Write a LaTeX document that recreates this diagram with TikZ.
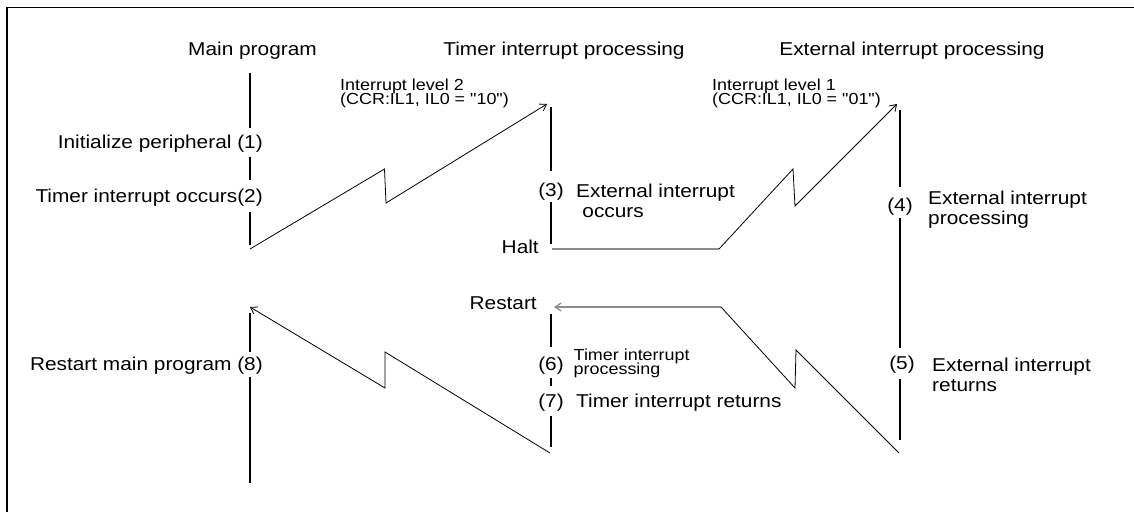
\documentclass[tikz,border=0pt]{standalone}
\usepackage{fontspec}
\usepackage{graphicx}
\setmainfont{Liberation Sans}[Ligatures=TeXOff]
\usetikzlibrary{arrows.meta}
\newcommand{\bigfnt}{\fontsize{18.6bp}{20bp}\selectfont\lineskiplimit=-100pt}
\newcommand{\smfnt}{\fontsize{16bp}{14bp}\selectfont\lineskiplimit=-100pt}
\begin{document}
\begin{tikzpicture}[x=1bp,y=-1bp,
  lab/.style={font=\bigfnt, inner sep=0pt, xscale=1.12},
  mlab/.style={font=\bigfnt, inner sep=0pt, xscale=1.12, align=left, anchor=north west},
  slab/.style={font=\smfnt, inner sep=0pt, xscale=1.12, align=left, anchor=north west},
  bar/.style={line width=2.2bp, black},
  zz/.style={line width=0.8bp, black},
  hz/.style={line width=1.3bp, black!45},
  tipped/.style={-{Straight Barb[length=6bp,width=8bp]}},
  frame/.style={line width=1.4bp, black}]
\useasboundingbox[fill=white] (0,0) rectangle (1134,512);
% frame
\coordinate (fbl) at (7,512);
\coordinate (ftl) at (7,7.5);
\coordinate (ftr) at (1134,7.5);
\draw[frame] (fbl) -- (ftl) -- (ftr);
% headers
\node[lab, anchor=base] (hmain) at (252.5,56) {Main program};
\node[lab, anchor=base] (htimer) at (564,56) {Timer interrupt processing};
\node[lab, anchor=base] (hext) at (912,56) {External interrupt processing};
% main program labels
\node[lab, anchor=base east] (l1) at (263,148.3) {Initialize peripheral (1)};
\node[lab, anchor=base east] (l2) at (263,202.5) {Timer interrupt occurs(2)};
\node[lab, anchor=base east] (l8) at (263,370.5) {Restart main program (8)};
% level labels
\node[slab] (lev2) at (340,79) {Interrupt level 2\\(CCR:IL1, IL0 = "10")};
\node[slab] (lev1) at (712,79) {Interrupt level 1\\(CCR:IL1, IL0 = "01")};
% timer labels
\node[lab, anchor=base] (n3) at (551,196.5) {(3)};
\node[mlab] (t3) at (576,184.2) {External interrupt\\\hspace*{0.3em}occurs};
\node[lab, anchor=base east] (halt) at (539,253.6) {Halt};
\node[lab, anchor=base east] (restart) at (537,309.6) {Restart};
\node[lab, anchor=base] (n6) at (551,370.7) {(6)};
\node[slab] (t6) at (573.5,349) {Timer interrupt\\processing};
\node[lab, anchor=base] (n7) at (551,407.5) {(7)};
\node[lab, anchor=base west] (t7) at (576,407) {Timer interrupt returns};
% external labels
\node[lab, anchor=base] (n4) at (900,212) {(4)};
\node[mlab] (t4) at (928,191.2) {External interrupt\\processing};
\node[lab, anchor=base] (n5) at (902,369.5) {(5)};
\node[mlab] (t5) at (932,358.2) {External interrupt\\returns};
% bar coordinates
\coordinate (mA) at (250,73);  \coordinate (mB) at (250,128);
\coordinate (mC) at (250,157); \coordinate (mD) at (250,180);
\coordinate (mE) at (250,212); \coordinate (mF) at (250,245);
\coordinate (mG) at (250,313); \coordinate (mH) at (250,352);
\coordinate (mI) at (250,377); \coordinate (mJ) at (250,483);
\coordinate (tA) at (551,107); \coordinate (tB) at (551,171);
\coordinate (tC) at (551,202); \coordinate (tD) at (551,244);
\coordinate (tE) at (551,314); \coordinate (tF) at (551,347);
\coordinate (tG) at (551,378); \coordinate (tH) at (551,386);
\coordinate (tI) at (551,416); \coordinate (tJ) at (551,447);
\coordinate (eA) at (900,110); \coordinate (eB) at (900,187);
\coordinate (eC) at (900,218); \coordinate (eD) at (900,348);
\coordinate (eE) at (900,379); \coordinate (eF) at (900,440);
\draw[bar] (mA) -- (mB) (mC) -- (mD) (mE) -- (mF);
\draw[bar] (mG) -- (mH) (mI) -- (mJ);
\draw[bar] (tA) -- (tB) (tC) -- (tD);
\draw[bar] (tE) -- (tF) (tG) -- (tH) (tI) -- (tJ);
\draw[bar] (eA) -- (eB) (eC) -- (eD) (eE) -- (eF);
% zigzag 1: main -> timer
\coordinate (z1s) at (250,249);
\coordinate (z1p) at (384.5,169);
\coordinate (z1q) at (386,203);
\coordinate (z1t) at (547,104);
\draw[zz, tipped] (z1s) -- (z1p) -- (z1q) -- (z1t);
% halt -> external
\coordinate (hs) at (552,249);
\coordinate (hc) at (719,249);
\coordinate (z2p) at (793,169);
\coordinate (z2q) at (795,206);
\coordinate (z2t) at (897,104);
\draw[hz] (hs) -- (hc);
\draw[zz, tipped] (hc) -- (z2p) -- (z2q) -- (z2t);
% external -> restart
\coordinate (z3s) at (899,453);
\coordinate (z3p) at (796,350);
\coordinate (z3q) at (795,388);
\coordinate (rc) at (721,307);
\coordinate (rt) at (554,307);
\draw[zz] (z3s) -- (z3p) -- (z3q) -- (rc);
\draw[hz, tipped] (rc) -- (rt);
% timer -> main
\coordinate (z4s) at (550,453);
\coordinate (z4p) at (385,352);
\coordinate (z4q) at (385,388);
\coordinate (z4t) at (250,307);
\draw[zz, tipped] (z4s) -- (z4p) -- (z4q) -- (z4t);
\end{tikzpicture}
\end{document}
